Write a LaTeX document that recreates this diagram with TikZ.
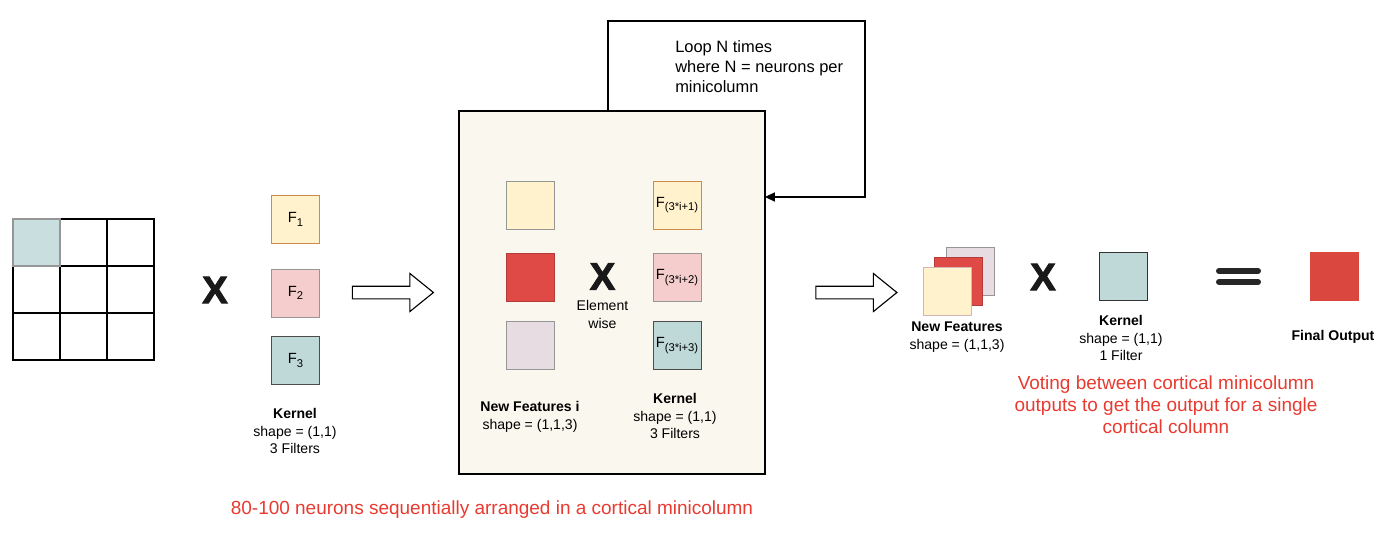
\documentclass[tikz,border=0pt]{standalone}
\usepackage{fontspec}
\setmainfont{Liberation Sans}
\newfontfamily\heavyfont[FakeBold=2.5]{Liberation Sans}
\usetikzlibrary{shapes,arrows.meta,positioning,calc}

\newcommand{\px}{0.025cm}
\newcommand{\fsub}[1]{\raisebox{-0.45ex}{\fontsize{8}{9}\selectfont #1}}

\definecolor{featyellow}{RGB}{255,242,204}
\definecolor{featpink}{RGB}{245,205,205}
\definecolor{featteal}{RGB}{191,216,216}
\definecolor{featred}{RGB}{224,74,70}
\definecolor{featgrey}{RGB}{230,220,226}
\definecolor{outred}{RGB}{217,71,63}
\definecolor{boxcream}{RGB}{250,248,238}
\definecolor{notered}{RGB}{232,58,48}
\definecolor{edgegrey}{RGB}{150,150,150}

\begin{document}
\begin{tikzpicture}[
      x=\px, y=-\px,
      cell/.style={rectangle, draw=black, line width=0.9pt, minimum size={47*\px}, inner sep=0},
      square/.style={rectangle, draw=edgegrey, line width=0.7pt, minimum size={48*\px}, inner sep=0, font=\fontsize{10.5}{12}\selectfont},
      txt/.style={align=center, inner sep=0, font=\fontsize{10}{12.5}\selectfont},
      times/.style={inner sep=0, text=black!90, font=\fontsize{27}{27}\selectfont\heavyfont\bfseries},
      note/.style={align=center, inner sep=0, text=notered, font=\fontsize{13.5}{15.6}\selectfont},
      bigarrow/.style={single arrow, draw, line width=0.8pt, inner xsep=0, inner ysep={5.75*\px}, minimum height={81*\px}, single arrow head extend={12.75*\px}, single arrow tip angle=78, single arrow head indent=0},
      arrow/.style={-{Triangle[length=7pt, width=6.5pt]}, line width=0.8pt}
    ]
      \useasboundingbox (0,0) rectangle (1400,559);

      % Input: 3x3 grid
      \foreach \r in {0,1,2}
        \foreach \c in {0,1,2}
          \node[cell] (g\r\c) at ({36.5+47*\c},{242.5+47*\r}) {};
      \node[cell, draw=edgegrey, line width=1.4pt, fill=featteal!85] (patch) at (g00) {};

      \node[times] (x1) at (215,290) {X};

      % Kernel with 3 filters
      \node[square, fill=featyellow, draw=orange!50!edgegrey] (f1) at (295.5,219.5) {F\fsub{1}};
      \node[square, fill=featpink] (f2) at (295.5,293) {F\fsub{2}};
      \node[square, fill=featteal, draw=gray!60!black] (f3) at (295.5,360.5) {F\fsub{3}};
      \node[txt] (kern1) at (295,431) {\textbf{Kernel}\\shape = (1,1)\\3 Filters};

      \node[bigarrow] (arr1) at (389,292.5) {};

      % Minicolumn block
      \node[rectangle, draw, line width=0.9pt, fill=boxcream, minimum width={306*\px}, minimum height={363*\px}, inner sep=0] (box) at (612,292.5) {};

      \node[square, fill=featyellow] (nf1) at (530,205) {};
      \node[square, fill=featred, draw=featred!80!black] (nf2) at (530,277.5) {};
      \node[square, fill=featgrey] (nf3) at (530,345.5) {};
      \node[txt] (nflabel) at (530,417) {\textbf{New Features i}\\shape = (1,1,3)};

      \node[times] (x2) at (602.5,276.5) {X};
      \node[txt] (elem) at (602.5,314.5) {Element\\wise};

      \node[square, fill=featyellow, draw=orange!50!edgegrey] (k1) at (677,205) {F\fsub{(3*i+1)}};
      \node[square, fill=featpink] (k2) at (677,277.5) {F\fsub{(3*i+2)}};
      \node[square, fill=featteal, draw=gray!60!black] (k3) at (677,345.5) {F\fsub{(3*i+3)}};
      \node[txt] (kern2) at (675,416) {\textbf{Kernel}\\shape = (1,1)\\3 Filters};

      % Loop back
      \coordinate (loopcorner) at (865,21);
      \coordinate (loopin) at (765,197);
      \draw[arrow] ($(box.north)+(-4,0)$) |- (loopcorner) |- (loopin);
      \node[txt, align=left, anchor=west, font=\fontsize{11.7}{14.2}\selectfont] (looptext) at (675,67) {Loop N times\\where N = neurons per\\minicolumn};

      \node[note] (note1) at (492,510) {80-100 neurons sequentially arranged in a cortical minicolumn};

      \node[bigarrow] (arr2) at (852.5,292.5) {};

      % Output
      \node[square, fill=featgrey] (s3) at (970,271.5) {};
      \node[square, fill=featred, draw=featred!80!black] (s2) at (958,281) {};
      \node[square, fill=featyellow, draw=featpink!70!gray] (s1) at (947,291) {};
      \node[txt] (stacklabel) at (957,337) {\textbf{New Features}\\shape = (1,1,3)};

      \node[times] (x3) at (1043,277) {X};

      \node[square, fill=featteal, draw=black!80] (k4) at (1123,276) {};
      \node[txt] (kern3) at (1121,338) {\textbf{Kernel}\\shape = (1,1)\\1 Filter};

      \draw[line width={6*\px}, line cap=round, black!85] (1219,271) -- (1258,271) (1219,282) -- (1258,282);

      \node[square, fill=outred, draw=outred] (out) at (1334,276.5) {};
      \node[txt, font=\fontsize{10}{12.5}\selectfont\bfseries] (outlabel) at (1333,337) {Final Output};

      \node[note] (note2) at (1166,405) {Voting between cortical minicolumn\\outputs to get the output for a single\\cortical column};
    \end{tikzpicture}
\end{document}
